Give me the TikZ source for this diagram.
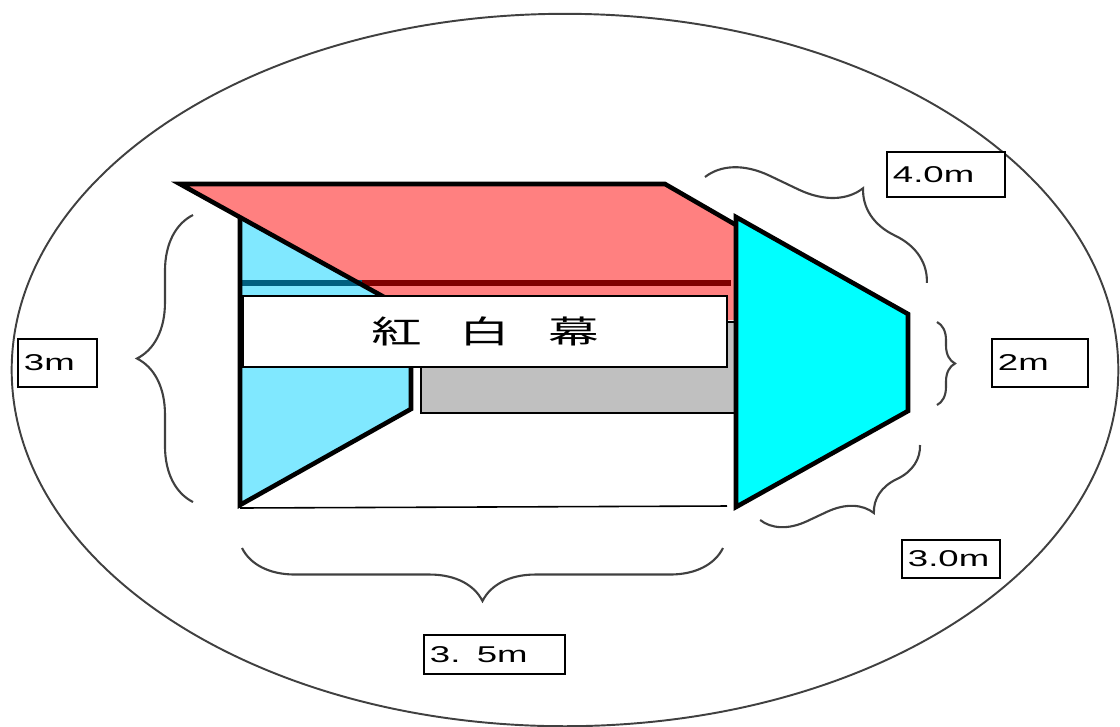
\documentclass[tikz,border=0pt]{standalone}
\usepackage{graphicx}
\usepackage{fontspec}
\setmainfont{Liberation Sans}
\newfontfamily\cjk{Noto Sans CJK JP}
\usetikzlibrary{decorations.pathreplacing}
\definecolor{roofred}{HTML}{FF8080}
\definecolor{sideblue}{HTML}{80E8FF}
\definecolor{panelcyan}{HTML}{00FFFF}
\definecolor{wallgray}{HTML}{C0C0C0}
\definecolor{tealline}{HTML}{006080}
\definecolor{redline}{HTML}{800000}
\definecolor{bracegray}{HTML}{404040}
\newcommand\hx[1]{\scalebox{1.6}[1]{#1}}
\begin{document}
\begin{tikzpicture}[x=0.01cm,y=-0.01cm,
  thickline/.style={line width=1.3pt, line join=miter},
  thinline/.style={line width=0.45pt},
  bracestyle/.style={draw=bracegray, line width=0.6pt, decorate},
  lbl/.style={draw=black, line width=0.6pt, fill=white, inner xsep=0.06cm, inner ysep=0pt, align=left, font=\fontsize{6.5}{7}\selectfont}]
\useasboundingbox (0,0) rectangle (1120,726);
% outer ellipse
\draw[draw=bracegray, line width=0.55pt] (565,370) ellipse [x radius=5.53cm, y radius=3.56cm];
% left side panel (light blue)
\fill[sideblue] (240,216.6) -- (411,309.7) -- (411,409) -- (240,505) -- cycle;
% back wall (gray)
\draw[thinline, fill=wallgray] (421,322) rectangle (736,413);
% roof (red)
\fill[roofred] (180,184) -- (665,184) -- (736,225) -- (736,320) -- (430,320) -- cycle;
% lines under the roof edge
\draw[tealline, line width=1.6pt] (240,283) -- (362,283);
\draw[redline, line width=1.6pt] (362,283) -- (731,283);
% side panel outline
\draw[thickline] (240,216.6) -- (240,505) -- (411,409) -- (411,360);
% roof outline
\draw[thickline] (384,297) -- (180,184) -- (665,184) -- (736,225);
% floor line
\draw[thinline] (240,508) -- (727,506);
% banner
\node[draw=black, line width=0.6pt, fill=white, minimum width=4.84cm, minimum height=0.71cm, inner sep=0pt,
      font=\cjk\fontsize{9}{9}\selectfont] (banner) at (485,331.5) {\hx{紅\hspace{0.75em}白\hspace{0.75em}幕}};
% right panel (cyan)
\draw[thickline, fill=panelcyan] (736,217) -- (908,314) -- (908,411) -- (736,507) -- cycle;
% braces
\coordinate (lb1) at (193,502); \coordinate (lb2) at (193,215);
\coordinate (bb1) at (723,548); \coordinate (bb2) at (242,548);
\coordinate (rb1) at (937,322); \coordinate (rb2) at (937,405);
\coordinate (ub1) at (705,177); \coordinate (ub2) at (927,283);
\coordinate (db1) at (920,445); \coordinate (db2) at (760,520);
\draw[bracestyle, decoration={brace, amplitude=0.56cm}] (lb1) -- (lb2);
\draw[bracestyle, decoration={brace, amplitude=0.53cm}] (bb1) -- (bb2);
\draw[bracestyle, decoration={brace, amplitude=0.18cm}] (rb1) -- (rb2);
\draw[bracestyle, decoration={brace, amplitude=0.58cm, aspect=0.6}] (ub1) -- (ub2);
\draw[bracestyle, decoration={brace, amplitude=0.42cm, aspect=0.4}] (db1) -- (db2);
% labels
\node[lbl, minimum height=0.45cm, text width=1.06cm] (l40) at (946,174.5) {\hx{4.0m}};
\node[lbl, minimum height=0.48cm, text width=0.84cm] (l2) at (1040,363) {\hx{2m}};
\node[lbl, minimum height=0.38cm, text width=0.86cm] (l30) at (951,559) {\hx{3.0m}};
\node[lbl, minimum height=0.48cm, text width=0.67cm] (l3) at (57.5,363) {\hx{3m}};
\node[lbl, minimum height=0.39cm, text width=1.29cm] (l35) at (494.5,654.5) {\hx{3.\hspace{0.45em}5m}};
\end{tikzpicture}
\end{document}
